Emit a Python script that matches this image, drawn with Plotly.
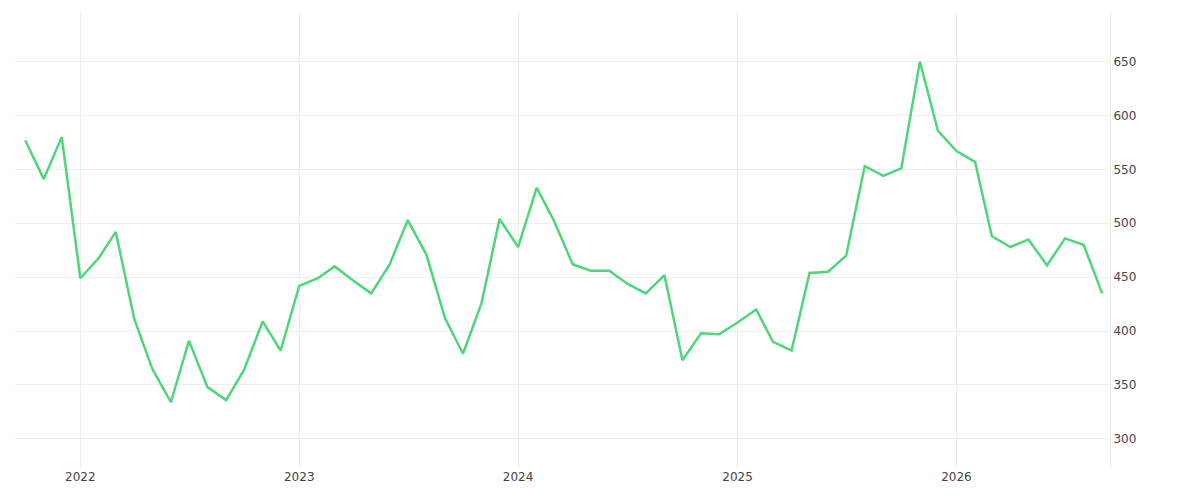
import plotly.graph_objects as go
import pandas as pd

dates = pd.date_range("2021-10-01", periods=60, freq="MS")
values = [577, 541, 580, 449, 468, 492, 411, 365, 334, 391, 348, 336,
          364, 409, 382, 442, 449, 460, 447, 435, 462, 503, 471, 412,
          379, 426, 504, 478, 533, 502, 462, 456, 456, 444, 435, 452,
          373, 398, 397, 408, 420, 390, 382, 454, 455, 470, 553, 544,
          551, 650, 586, 567, 557, 488, 478, 485, 461, 486, 480, 435]

fig = go.Figure(go.Scatter(x=dates, y=values, mode="lines",
                           line=dict(color="#4fd67b", width=2.5)))
fig.update_layout(
    width=1200, height=500, plot_bgcolor="white", paper_bgcolor="white",
    margin=dict(l=7, r=98, t=4, b=40), showlegend=False,
    font=dict(family="DejaVu Sans", size=12, color="#444"),
    xaxis=dict(range=["2021-09-14", "2026-09-14"], dtick="M12", tickformat="%Y",
               showgrid=True, gridcolor="#eeeeee", zeroline=False, showline=False,
               ticks=""),
    yaxis=dict(side="right", range=[273, 696], tickvals=[300, 350, 400, 450, 500, 550, 600, 650],
               showgrid=True, gridcolor="#eeeeee", zeroline=False, ticks="",
               showline=True, linecolor="#eeeeee"),
)
fig.write_html("out.html")
